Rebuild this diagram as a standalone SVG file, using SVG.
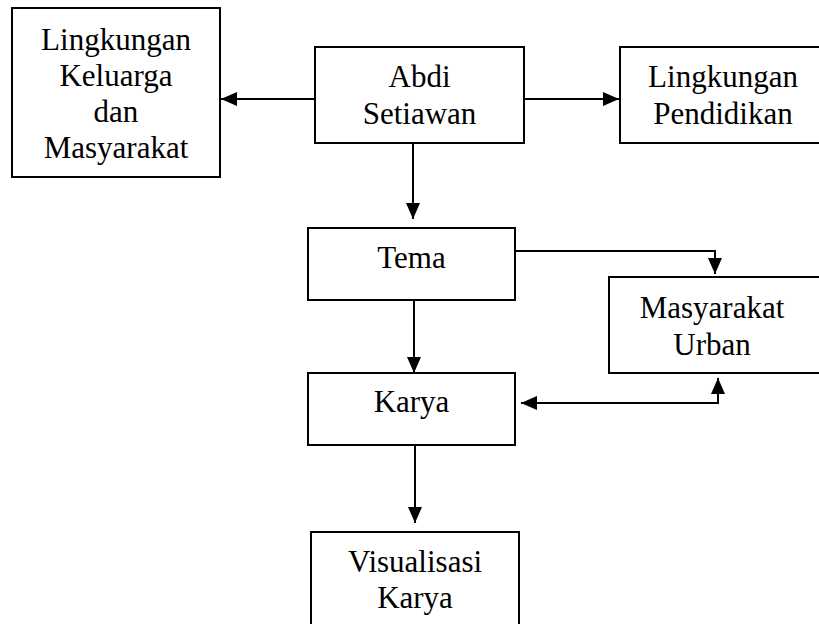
<svg xmlns="http://www.w3.org/2000/svg" width="819" height="624" viewBox="0 0 819 624">
<style>
.box{fill:#fff;stroke:#000;stroke-width:2}
.t{font-family:"Liberation Serif","Times New Roman",serif;font-size:31px;fill:#000;text-anchor:middle}
.c{fill:none;stroke:#000;stroke-width:2}
</style>
<defs>
<marker id="ah" markerUnits="userSpaceOnUse" markerWidth="17" markerHeight="14" refX="16" refY="7" orient="auto-start-reverse">
<path d="M0,0 L16,7 L0,14 Z" fill="#000"/>
</marker>
</defs>
<rect width="819" height="624" fill="#fff"/>
<g id="connectors">
<line class="c" x1="315" y1="99" x2="221" y2="99" marker-end="url(#ah)"/>
<line class="c" x1="524" y1="99" x2="619" y2="99" marker-end="url(#ah)"/>
<line class="c" x1="413" y1="143" x2="413" y2="219" marker-end="url(#ah)"/>
<polyline class="c" points="515,251 715,251 715,274" marker-end="url(#ah)"/>
<line class="c" x1="414" y1="300" x2="414" y2="373" marker-end="url(#ah)"/>
<polyline class="c" points="521,403 718,403 718,378" marker-start="url(#ah)" marker-end="url(#ah)"/>
<line class="c" x1="415" y1="445" x2="415" y2="523" marker-end="url(#ah)"/>
</g>
<g id="n-keluarga">
<rect class="box" x="12" y="8" width="208" height="169"/>
<text class="t" x="116" y="50">Lingkungan</text>
<text class="t" x="116" y="86">Keluarga</text>
<text class="t" x="116" y="122">dan</text>
<text class="t" x="116" y="158">Masyarakat</text>
</g>
<g id="n-abdi">
<rect class="box" x="315" y="47" width="209" height="96"/>
<text class="t" x="419.5" y="87">Abdi</text>
<text class="t" x="419.5" y="124">Setiawan</text>
</g>
<g id="n-pendidikan">
<rect class="box" x="620" y="47" width="206" height="96"/>
<text class="t" x="723" y="87">Lingkungan</text>
<text class="t" x="723" y="124">Pendidikan</text>
</g>
<g id="n-tema">
<rect class="box" x="308" y="228" width="207" height="72"/>
<text class="t" x="411.5" y="268">Tema</text>
</g>
<g id="n-urban">
<rect class="box" x="609" y="277" width="215" height="96"/>
<text class="t" x="712" y="318">Masyarakat</text>
<text class="t" x="712" y="355">Urban</text>
</g>
<g id="n-karya">
<rect class="box" x="308" y="373" width="207" height="72"/>
<text class="t" x="411.5" y="412">Karya</text>
</g>
<g id="n-visualisasi">
<rect class="box" x="311" y="532" width="208" height="100"/>
<text class="t" x="415" y="572">Visualisasi</text>
<text class="t" x="415" y="608">Karya</text>
</g>
</svg>
